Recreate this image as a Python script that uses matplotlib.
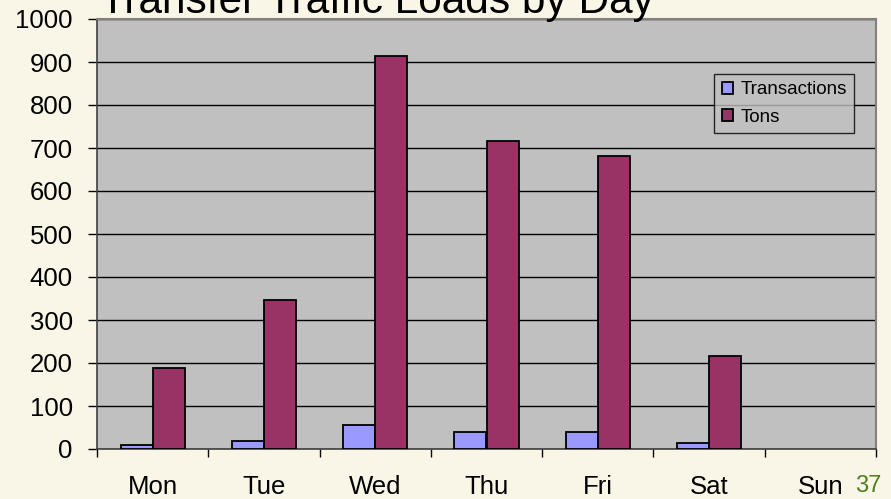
import numpy as np
import matplotlib.pyplot as plt

plt.rcParams['font.family'] = ['Liberation Sans', 'DejaVu Sans']

days = ['Mon', 'Tue', 'Wed', 'Thu', 'Fri', 'Sat', 'Sun']
transactions = [9, 19, 56, 40, 40, 13, 0]
tons = [188, 347, 914, 716, 681, 216, 0]

bg = '#f9f6e7'
fig = plt.figure(figsize=(8.91, 4.99), dpi=100, facecolor=bg)
ax = fig.add_axes([97/891, 50/499, 779/891, 430/499])
ax.set_facecolor('#c0c0c0')

x = np.arange(len(days))
w = 0.288
b1 = ax.bar(x - w/2, transactions, w, color='#9999ff', edgecolor='black', linewidth=1.3,
            label='Transactions', zorder=3)
b2 = ax.bar(x + w/2, tons, w, color='#993366', edgecolor='black', linewidth=1.3,
            label='Tons', zorder=3)
# empty days show no bar outline
for bars, vals in [(b1, transactions), (b2, tons)]:
    for p, v in zip(bars, vals):
        if v == 0:
            p.set_visible(False)

ax.set_xlim(-0.5, len(days) - 0.5)
ax.set_ylim(0, 1000)
ax.set_yticks(range(0, 1001, 100))
ax.yaxis.grid(True, color='black', linewidth=1, zorder=0)
ax.tick_params(axis='y', labelsize=18.5, length=6.5, width=1, pad=11)

ax.set_xticks(x)
ax.set_xticklabels(days, fontsize=18.5)
ax.tick_params(axis='x', length=0, pad=18.5)
ax.set_xticks(np.arange(-0.5, len(days)), minor=True)
ax.tick_params(axis='x', which='minor', length=6, width=1)

for s in ['top', 'right']:
    ax.spines[s].set_color('#808080')
    ax.spines[s].set_linewidth(1.5)
for s in ['left', 'bottom']:
    ax.spines[s].set_color('#404040')
    ax.spines[s].set_linewidth(1.2)

leg = ax.legend(loc='upper left', bbox_to_anchor=((714 - 97) / 779, (449 - 74) / 430),
                fontsize=13.5, frameon=True, fancybox=False, edgecolor='black',
                facecolor='#c0c0c0', handlelength=0.6, handleheight=0.6,
                handletextpad=0.4, borderpad=0.4, labelspacing=0.55,
                borderaxespad=0)
leg.get_frame().set_linewidth(1)

fig.text(100/891, 1 - 13/499, 'Transfer Traffic Loads by Day', fontsize=30.5,
         ha='left', va='baseline')
fig.text(868/891, 7/499, '37', fontsize=17, color='#4f7f1f', ha='center', va='baseline')

fig.savefig('out.png', dpi=100, facecolor=bg)
